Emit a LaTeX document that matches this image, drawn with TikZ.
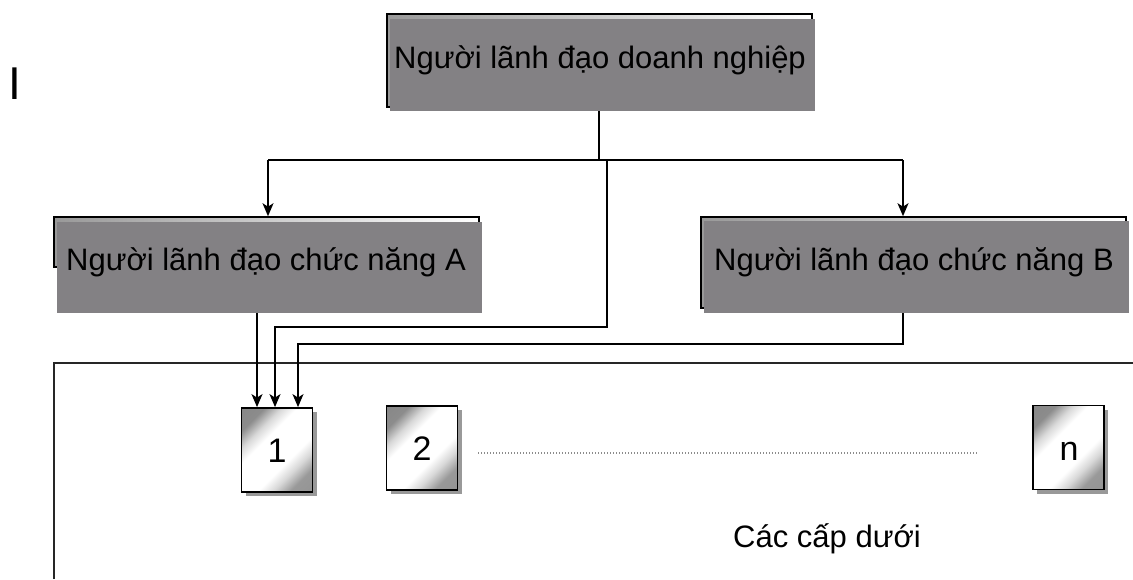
\documentclass[tikz,border=0pt]{standalone}
\usepackage{fontspec}
\setmainfont{Liberation Sans}
\usetikzlibrary{arrows.meta,shadows}
\definecolor{boxgray}{RGB}{131,129,132}
\pgfdeclarehorizontalshading{sheetshade}{100bp}{color(0bp)=(black!50); color(25bp)=(black!45); color(33bp)=(black!15); color(40bp)=(white); color(60bp)=(white); color(67bp)=(black!15); color(75bp)=(black!40); color(100bp)=(black!45)}
\tikzset{
  txt/.style={font=\fontsize{31}{37}\selectfont, inner sep=0pt, anchor=base},
  digit/.style={txt, font=\fontsize{34}{40}\selectfont},
  backframe/.style={draw=black, line width=1.6pt, left color=black!40, right color=white, inner sep=0pt},
  grayblock/.style={fill=boxgray, draw=none, inner sep=0pt},
  sheet/.style={draw=black, line width=1.8pt, shading=sheetshade, shading angle=-45,
    minimum width=71pt, minimum height=84pt, inner sep=0pt,
    drop shadow={shadow xshift=4pt, shadow yshift=-4pt, fill=black!40, opacity=1}},
  link/.style={line width=1.6pt, draw=black},
  arr/.style={link, -{Stealth[length=13pt,width=11pt,inset=3.5pt]}},
  frame/.style={line width=1.8pt, draw=black!85},
  dots/.style={draw=black!45, line width=1.2pt, dash pattern=on 1.2pt off 1.8pt}
}
\begin{document}
\begin{tikzpicture}[x=1pt,y=-1pt]
\useasboundingbox (0,0) rectangle (1133,579);

% stray letter at the upper left
\node[txt, font=\fontsize{46}{50}\selectfont] (mark) at (15,99) {I};

% top level
\node[backframe, minimum width=425pt, minimum height=93pt] (topback) at (599.5,60.5) {};
\node[grayblock, minimum width=425pt, minimum height=92pt] (topbox) at (602.5,65) {};
\node[txt] (toptext) at (600,68) {Người lãnh đạo doanh nghiệp};

% functional managers
\node[backframe, minimum width=425pt, minimum height=50pt] (aback) at (266.5,242) {};
\node[grayblock, minimum width=425pt, minimum height=91pt] (abox) at (269.5,267.5) {};
\node[txt] (atext) at (266,270) {Người lãnh đạo chức năng A};

\node[backframe, minimum width=425pt, minimum height=91pt] (bback) at (913.5,262.5) {};
\node[grayblock, minimum width=425pt, minimum height=92pt] (bbox) at (916.5,267) {};
\node[txt] (btext) at (914,270) {Người lãnh đạo chức năng B};

% subordinate area
\coordinate (frameTL) at (54,363);
\coordinate (frameTR) at (1133,363);
\coordinate (frameBL) at (54,579);
\draw[frame] (frameBL) -- (frameTL) -- (frameTR);

\node[sheet] (s1) at (277,450) {};
\node[sheet] (s2) at (422,448) {};
\node[sheet] (sn) at (1068.5,447.5) {};
\node[digit] (l1) at (277,462) {1};
\node[digit] (l2) at (422,460) {2};
\node[digit] (ln) at (1069,460) {n};
\coordinate (dotL) at (478,453);
\coordinate (dotR) at (978,453);
\draw[dots] (dotL) -- (dotR);
\node[txt] (lower) at (827,547) {Các cấp dưới};

% line relations from the top
\coordinate (jtop) at (599,160);
\coordinate (jleft) at (268,160);
\coordinate (jright) at (903,160);
\draw[link] (topbox.south -| jtop) -- (jtop);
\draw[link] (jleft) -- (jright);
\draw[arr] (jleft) -- (aback.north -| jleft);
\draw[arr] (jright) -- (bback.north -| jright);

% orders reaching unit 1
\coordinate (pa) at (257,313);
\coordinate (d1) at (607,160);
\coordinate (d2) at (607,327);
\coordinate (d3) at (275,327);
\coordinate (pb) at (903,313);
\coordinate (e2) at (903,344);
\coordinate (e3) at (298,344);
\draw[arr] (pa) -- (s1.north -| pa);
\draw[arr] (d1) -- (d2) -- (d3) -- (s1.north -| d3);
\draw[arr] (pb) -- (e2) -- (e3) -- (s1.north -| e3);
\end{tikzpicture}
\end{document}
